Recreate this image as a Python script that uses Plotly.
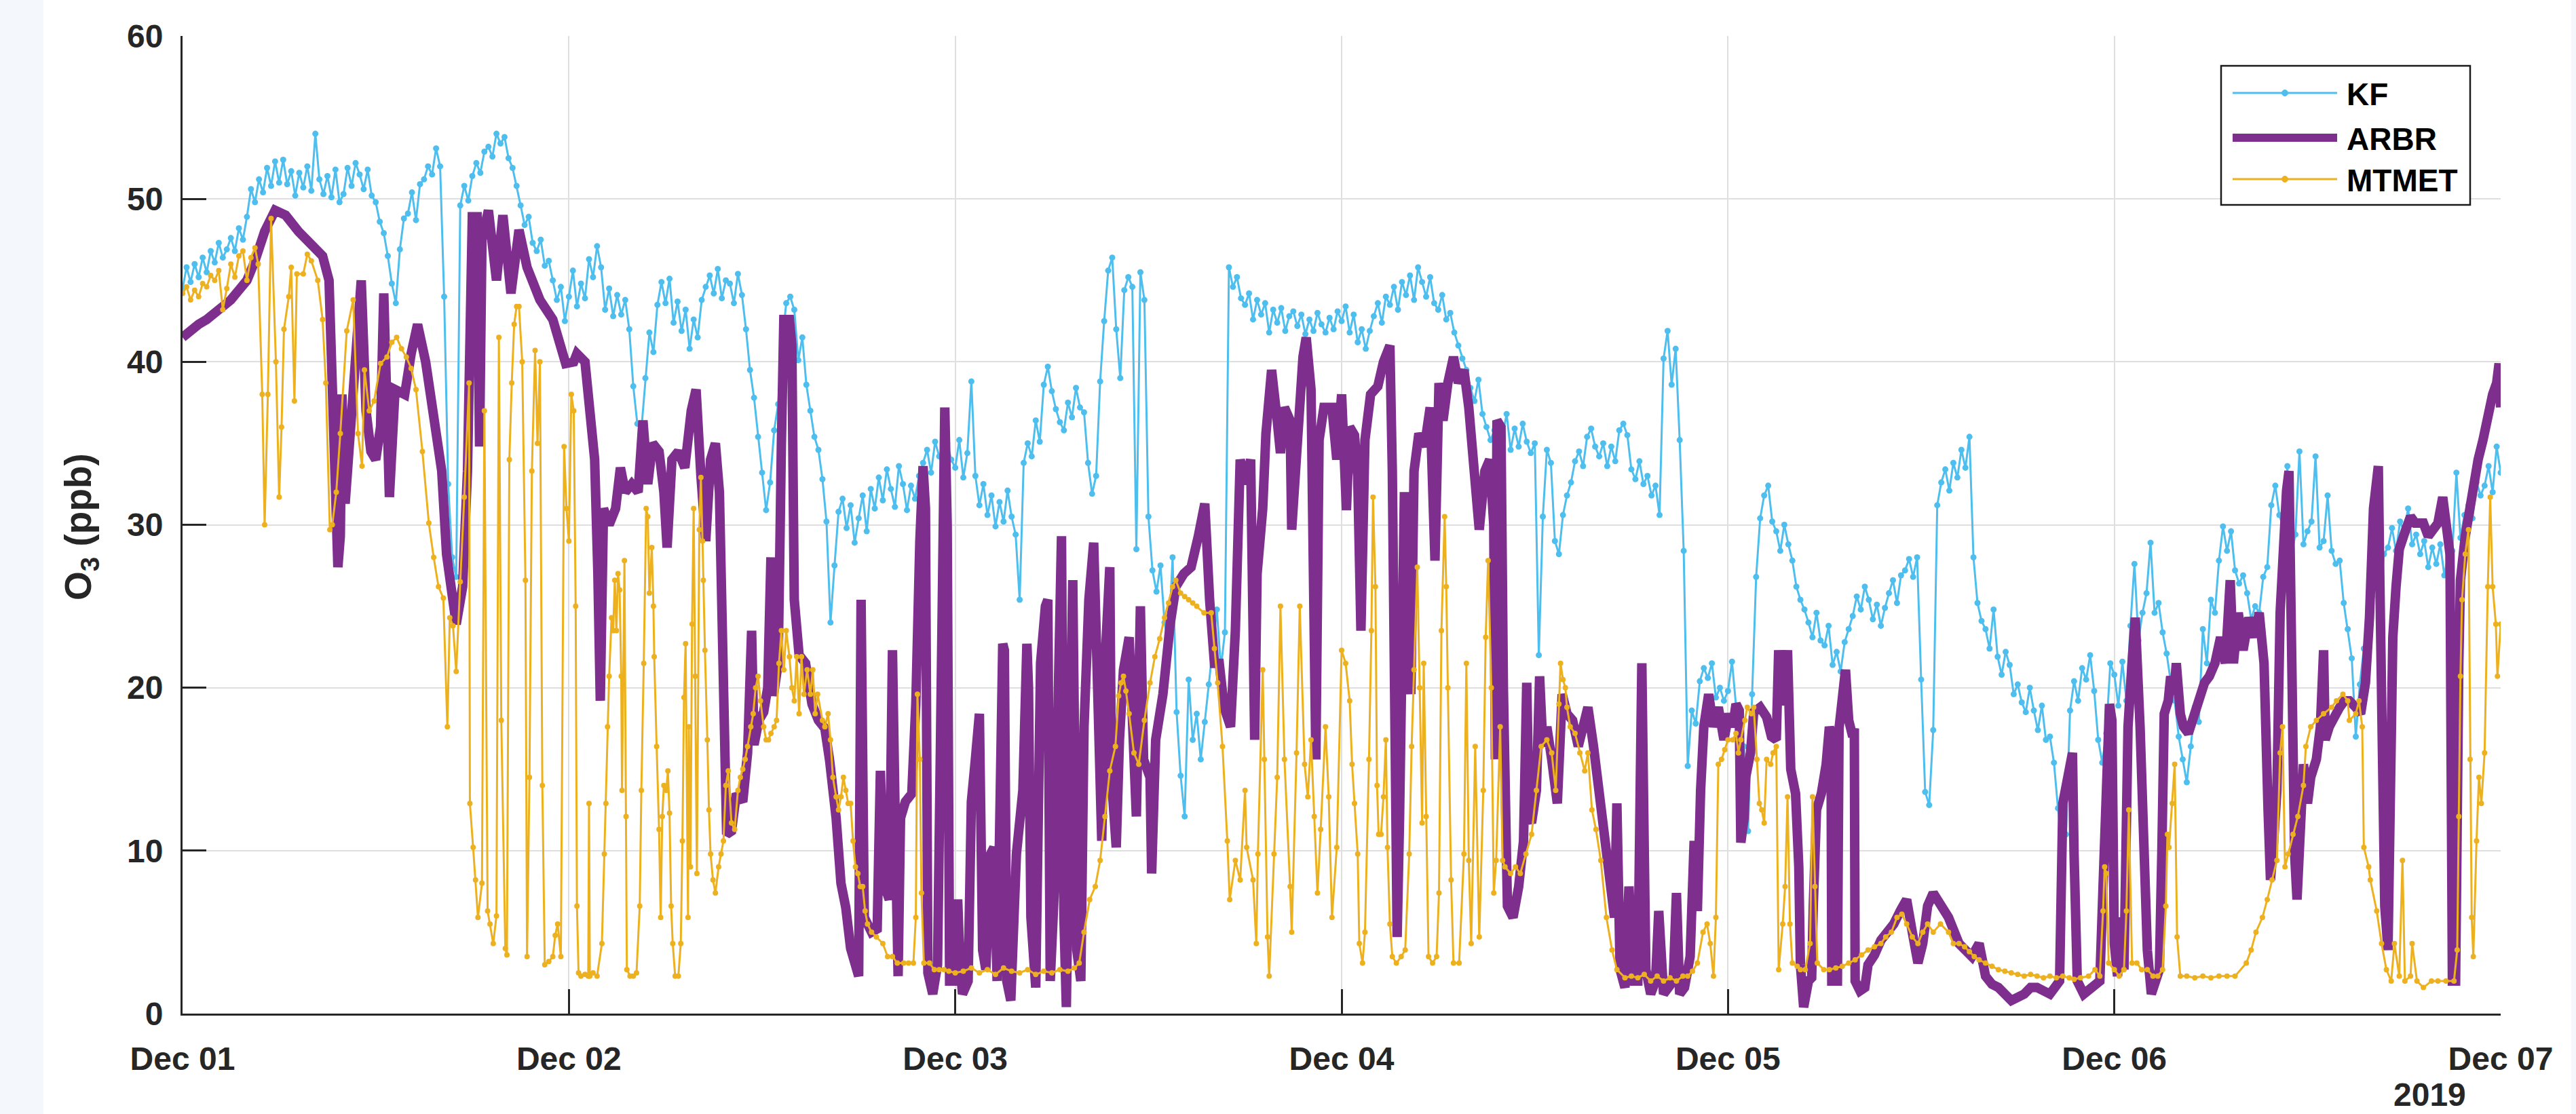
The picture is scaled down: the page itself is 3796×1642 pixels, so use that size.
import pandas as pd
import plotly.graph_objects as go

# Ozone time series, 1-7 December 2019 (ppb)
START = pd.Timestamp("2019-12-01")

# KF: one reading every 15 minutes from Dec 01 00:00 to Dec 07 00:00
kf_step_min = 15
kf_ppb = [
    # Dec 01
    44.5, 45.8, 44.9, 46.0, 45.2, 46.4, 45.5, 46.8, 46.1, 47.3, 46.4, 46.9, 47.6, 46.8, 48.2, 47.5, 48.9, 50.6, 49.8, 51.2, 50.4, 51.9, 50.8, 52.3,
    51.0, 52.4, 50.9, 51.7, 50.2, 51.6, 50.7, 52.0, 50.5, 54.0, 51.2, 50.3, 51.4, 50.1, 51.8, 49.8, 50.3, 51.9, 50.8, 52.2, 51.5, 50.6, 51.8, 50.2,
    49.8, 48.6, 47.9, 46.5, 44.8, 43.6, 46.9, 48.8, 49.1, 50.4, 48.7, 50.9, 51.2, 52.0, 51.5, 53.1, 52.0, 44.0, 32.5, 28.0, 26.8, 49.6, 50.8, 49.9,
    51.4, 52.2, 51.6, 52.9, 53.2, 52.6, 54.0, 53.4, 53.8, 52.5, 51.9, 50.8, 49.6, 48.4, 48.9, 47.3, 46.8, 47.5, 45.9, 46.2, 45.0, 43.8, 44.6, 42.5,
    # Dec 02
    44.0, 45.6, 43.4, 44.8, 43.9, 46.3, 45.2, 47.1, 45.8, 43.2, 44.5, 42.8, 44.1, 42.9, 43.8, 42.0, 38.5, 36.2, 35.8, 39.0, 41.8, 40.6, 43.5, 44.9,
    43.6, 45.1, 42.4, 43.7, 41.9, 43.2, 40.8, 42.6, 41.5, 43.8, 44.6, 45.3, 44.2, 45.7, 43.9, 45.0, 44.8, 43.6, 45.4, 44.1, 42.0, 39.5, 37.8, 35.4,
    33.2, 30.9, 32.6, 35.8, 37.4, 41.2, 43.6, 44.0, 43.2, 40.1, 41.5, 38.6, 37.0, 35.4, 34.6, 32.8, 30.2, 24.0, 27.5, 30.8, 31.6, 29.8, 31.2, 28.9,
    30.4, 31.8, 29.6, 32.2, 31.0, 32.9, 31.5, 33.4, 32.2, 31.1, 33.6, 32.5, 30.9, 32.4, 31.6, 33.0, 33.8, 34.6, 33.2, 35.1, 34.2, 33.5, 35.0, 34.0,
    # Dec 03
    33.5, 35.2, 32.9, 34.4, 38.8, 33.0, 31.2, 32.5, 30.6, 31.8, 29.9, 31.4, 30.2, 32.1, 30.5, 29.4, 25.4, 33.8, 35.0, 34.2, 36.4, 35.1, 38.6, 39.7,
    38.2, 37.1, 36.3, 35.8, 37.5, 36.6, 38.4, 37.2, 36.9, 33.8, 31.9, 33.0, 38.8, 42.5, 45.6, 46.4, 42.0, 39.0, 44.4, 45.2, 44.6, 28.5, 45.5, 43.8,
    30.5, 27.2, 25.9, 27.5, 24.0, 22.5, 28.0, 18.5, 14.6, 12.1, 20.5, 16.8, 18.4, 15.6, 17.9, 20.2, 22.6, 24.8, 21.2, 23.4, 45.8, 44.6, 45.2, 43.9,
    43.5, 44.2, 42.6, 43.8, 42.9, 43.6, 41.8, 43.2, 42.4, 43.3, 41.9, 42.8, 43.1, 42.2, 42.9, 41.7, 42.6, 41.9, 43.0, 42.3, 41.8, 42.7, 42.0, 43.1,
    # Dec 04
    42.5, 43.4, 41.8, 42.9, 41.2, 42.0, 40.8, 41.9, 42.8, 43.6, 42.4, 44.0, 43.5, 44.6, 43.2, 44.9, 44.1, 45.3, 43.8, 45.8, 44.9, 44.0, 45.2, 43.6,
    43.2, 44.1, 42.6, 43.0, 41.8, 41.0, 40.2, 39.5, 38.4, 37.6, 38.9, 36.8, 36.0, 35.2, 35.8, 34.9, 35.5, 36.8, 34.6, 35.9, 34.8, 36.2, 35.1, 34.4,
    35.0, 22.0, 30.5, 34.6, 33.8, 29.0, 28.2, 30.6, 31.8, 32.6, 33.9, 34.5, 33.6, 35.4, 35.9, 34.8, 34.2, 35.0, 33.6, 34.8, 33.9, 35.8, 36.2, 35.5,
    33.4, 32.8, 33.9, 32.5, 33.0, 31.8, 32.4, 30.6, 40.2, 41.9, 38.6, 40.8, 35.2, 28.4, 15.2, 18.6, 17.8, 20.4, 21.2, 20.6, 21.5, 19.4, 20.0, 19.2,
    # Dec 05
    19.8, 21.6, 18.9, 17.2, 16.4, 11.2, 19.6, 26.8, 30.4, 31.8, 32.4, 30.2, 29.6, 28.4, 30.0, 28.8, 27.8, 26.2, 25.4, 24.8, 24.0, 23.1, 24.6, 22.9,
    22.6, 23.8, 21.4, 22.2, 21.0, 22.8, 23.6, 24.4, 25.6, 24.8, 26.2, 25.4, 24.2, 25.1, 23.8, 24.9, 25.8, 26.6, 25.2, 26.9, 27.2, 27.9, 26.8, 28.0,
    20.5, 13.6, 12.8, 17.4, 31.2, 32.6, 33.4, 32.1, 33.8, 32.9, 34.6, 33.5, 35.4, 28.0, 25.2, 24.1, 23.6, 22.4, 24.8, 21.9, 20.8, 22.2, 21.4, 19.6,
    20.2, 19.1, 18.5, 20.0, 18.6, 17.4, 18.9, 16.8, 17.0, 15.4, 12.6, 10.4, 11.0, 18.6, 20.4, 19.2, 21.2, 20.5, 22.0, 19.8, 16.8, 15.4, 17.2, 21.5,
    # Dec 06
    20.8, 18.9, 21.6, 19.2, 23.8, 27.6, 22.9, 24.6, 25.8, 28.9, 24.6, 25.2, 23.4, 22.1, 20.4, 19.2, 17.0, 15.6, 14.2, 16.4, 18.8, 17.9, 23.6, 21.5,
    25.4, 24.6, 27.8, 29.9, 28.4, 29.6, 27.2, 26.4, 26.9, 25.8, 24.2, 25.0, 24.6, 26.8, 27.4, 31.2, 32.4, 30.6, 29.8, 33.6, 28.2, 29.4, 34.5, 28.8,
    29.6, 30.2, 34.2, 28.6, 29.0, 31.8, 28.4, 27.6, 27.8, 25.2, 23.6, 21.8, 17.0, 20.2, 22.4, 24.2, 25.6, 26.8, 25.4, 28.2, 28.6, 29.8, 28.4, 30.2,
    29.6, 31.0, 28.8, 29.4, 28.2, 29.0, 27.4, 28.6, 27.6, 28.8, 26.9, 28.2, 28.4, 33.2, 29.2, 30.6, 31.2, 30.4, 32.6, 31.8, 32.4, 33.6, 32.0, 34.8,
    33.2,
]

# ARBR: (hours since Dec 01 00:00, ppb)
arbr_obs = [
    (0, 41.5), (0.5, 42), (1, 42.3), (1.5, 42.6), (2, 43), (2.5, 43.4), (3, 43.8), (3.5, 44.4), (4, 45), (4.5, 46.2),
    (5.1, 48), (5.75, 49.3), (6.4, 49), (7.2, 48), (8, 47.3), (8.7, 46.5), (9.1, 45), (9.3, 37), (9.5, 28), (9.65, 27.4),
    (9.8, 29.3), (9.9, 38), (10.1, 31.3), (10.35, 35.2), (10.75, 41), (11.1, 45), (11.4, 37), (11.7, 34.5), (12, 34), (12.3, 36),
    (12.5, 44.2), (12.85, 31.7), (13.2, 38.3), (13.8, 38), (14.2, 40.5), (14.6, 42.3), (15.1, 40), (15.6, 36.4), (16.1, 33.3), (16.4, 28.2),
    (16.7, 25.4), (17, 23.9), (17.4, 26.2), (17.7, 33.3), (18, 48.9), (18.3, 48.9), (18.45, 34.8), (18.6, 47.5), (19, 49.3), (19.5, 45),
    (19.9, 49), (20.4, 44.2), (20.9, 48.1), (21.4, 45.8), (22.2, 43.8), (23, 42.6), (23.8, 39.9), (24.3, 40),
    (24.5, 40.5), (25, 40), (25.3, 37), (25.6, 34), (25.8, 27), (25.95, 19.2), (26.15, 31), (26.5, 30), (26.9, 31), (27.2, 33.5),
    (27.5, 32), (27.9, 32.5), (28.3, 32), (28.6, 36.4), (28.9, 32.5), (29.2, 35), (29.6, 34.5), (29.9, 32), (30.1, 28.6), (30.4, 34),
    (30.8, 34.5), (31.2, 33.5), (31.6, 37), (31.9, 38.3), (32.2, 33), (32.5, 29), (32.8, 34), (33.1, 35), (33.35, 32), (33.55, 20),
    (33.8, 11), (34.1, 11.2), (34.4, 13.5), (34.8, 13), (35.1, 16), (35.35, 23.5), (35.5, 16.5), (35.8, 18), (36.1, 18.5), (36.35, 20),
    (36.55, 28), (36.7, 19.5), (37, 21.5), (37.2, 35), (37.35, 42.6), (37.7, 42.6), (37.85, 41), (38, 25.4), (38.3, 22), (38.7, 21.5),
    (39.1, 19), (39.5, 18), (39.9, 17.5), (40.2, 15.5), (40.6, 12), (40.9, 8), (41.2, 6.5), (41.5, 4), (41.8, 3), (42, 2.3),
    (42.15, 25.4), (42.35, 5.9), (42.8, 5), (43.15, 5.2), (43.35, 14.9), (43.55, 8), (43.9, 7), (44.1, 22.3), (44.3, 10), (44.45, 2.3),
    (44.6, 12), (44.9, 13), (45.3, 13.5), (45.55, 19), (45.8, 29), (46.0, 33.6), (46.15, 31), (46.3, 2.5), (46.6, 1.2), (46.9, 3),
    (47.1, 18), (47.35, 37.2), (47.5, 30), (47.65, 2), (47.9, 2), (48.15, 7), (48.3, 3),
    (48.45, 1.2), (48.8, 2), (49, 13), (49.25, 15.6), (49.5, 18.4), (49.7, 3.9), (49.9, 2.7), (50.2, 9.8), (50.4, 10.2), (50.6, 2),
    (50.8, 20.7), (50.95, 22.7), (51.05, 22.3), (51.2, 2), (51.45, 0.8), (51.8, 9.8), (52.2, 13.7), (52.45, 22.7), (52.55, 20), (52.7, 5.9),
    (53, 1.6), (53.3, 21.5), (53.6, 25), (53.75, 25.4), (53.9, 2), (54.2, 8.6), (54.4, 19.6), (54.6, 29.3), (54.75, 5.9), (54.9, 0.4),
    (55.15, 17.6), (55.3, 26.6), (55.55, 3.9), (55.8, 2), (56, 17.6), (56.3, 25.4), (56.6, 28.9), (56.85, 21.5), (57.1, 10.6), (57.3, 21.5),
    (57.6, 27.4), (57.7, 14.5), (58, 10.2), (58.2, 16.8), (58.45, 21.1), (58.8, 23.1), (59, 16.8), (59.25, 12.1), (59.5, 25), (59.7, 15.6),
    (60.1, 14.5), (60.2, 8.6), (60.45, 16.8), (60.9, 19.6), (61.35, 23.9), (61.7, 26.2), (62.2, 27), (62.65, 27.4), (63.1, 29.3), (63.5, 31.3),
    (63.8, 25.4), (64.1, 21.5), (64.4, 21.5), (64.7, 18.8), (65.1, 17.6), (65.4, 23.5), (65.7, 34), (66, 32.5), (66.35, 34), (66.6, 16.8),
    (66.75, 27), (67.1, 31), (67.3, 35.6), (67.65, 39.5), (68, 36.4), (68.2, 34.4), (68.45, 37.2), (68.8, 36.4), (68.9, 29.7), (69.3, 36.4),
    (69.6, 40.3), (69.8, 41.5), (70.1, 38.3), (70.4, 15.6), (70.6, 35.2), (70.9, 37.2), (71.4, 37.2), (71.7, 34), (72, 38),
    (72.3, 30.9), (72.5, 36), (72.8, 35.5), (73, 33), (73.2, 23.5), (73.45, 35.2), (73.8, 38), (74.25, 38.5), (74.6, 40), (75, 41),
    (75.15, 33.3), (75.3, 15), (75.45, 4.7), (75.6, 12), (75.75, 19.6), (75.9, 32), (76, 30.5), (76.3, 19.6), (76.5, 33.3), (76.8, 35.6),
    (77.15, 34.8), (77.5, 37.2), (77.8, 27.8), (78.05, 38.7), (78.3, 36.4), (78.6, 38.7), (78.95, 40.3), (79.25, 38.7), (79.6, 39.5), (79.9, 37.2),
    (80.2, 33.3), (80.55, 29.7), (80.9, 33.3), (81.2, 34), (81.45, 30), (81.55, 15.6), (81.65, 36.4), (81.9, 36), (82.05, 20), (82.15, 13.7),
    (82.3, 6.6), (82.65, 5.9), (83, 7.8), (83.3, 10.6), (83.5, 20.3), (83.65, 12), (83.8, 11.7), (84.1, 13.7), (84.3, 20.7), (84.5, 16.4),
    (84.75, 17.6), (85.05, 15.6), (85.4, 12.9), (85.7, 19.6), (86, 18.4), (86.35, 18), (86.7, 16.4), (87, 17.6), (87.3, 18.8), (87.65, 16.4),
    (87.95, 13.7), (88.3, 11), (88.6, 7.8), (88.95, 5.9), (89.1, 12.9), (89.3, 2.7), (89.6, 1.6), (89.85, 7.8), (90.1, 2), (90.4, 2),
    (90.55, 14), (90.65, 21.5), (90.8, 10), (90.9, 2.7), (91.2, 1.2), (91.5, 2), (91.7, 6.3), (92, 1.2), (92.3, 1.6), (92.6, 2),
    (92.8, 7.4), (93, 1.2), (93.3, 1.6), (93.65, 3.5), (93.9, 10.6), (94.1, 6.3), (94.3, 13.7), (94.5, 17.6), (94.8, 19.6), (95.1, 17.6),
    (95.4, 18.8), (95.75, 16.8), (96.05, 18.4), (96.3, 17.6),
    (96.5, 19), (96.7, 18.6), (96.8, 10.5), (97.0, 12), (97.1, 14.5), (97.4, 16), (97.6, 18.5), (98, 18.8), (98.4, 18.2), (98.7, 17),
    (99, 16.8), (99.15, 22.3), (99.3, 19), (99.55, 19.5), (99.7, 22.3), (99.9, 15), (100.2, 13.5), (100.4, 9), (100.5, 3), (100.7, 0.4),
    (101, 2), (101.2, 2.2), (101.3, 6.6), (101.5, 12.5), (101.8, 13.5), (102.1, 15.3), (102.3, 17.6), (102.4, 17.2), (102.45, 2), (102.8, 2),
    (102.9, 17.5), (103.1, 19), (103.3, 21.1), (103.5, 18), (103.75, 17), (103.85, 17.5), (103.9, 2), (104.2, 1.4), (104.5, 1.6), (104.7, 3),
    (105.1, 3.6), (105.5, 4.5), (105.9, 5), (106.3, 5.5), (106.7, 6.3), (107.1, 7), (107.45, 5), (107.8, 3.1), (108.1, 4.3), (108.4, 6.6),
    (108.75, 7.4), (109.2, 6.6), (109.7, 5.9), (110.35, 4.3), (110.8, 3.8), (111.15, 3.5), (111.6, 4.3), (112, 2.3), (112.4, 1.8), (112.8, 1.6),
    (113.2, 1.2), (113.6, 0.8), (114, 1), (114.4, 1.2), (114.8, 1.6), (115.2, 1.6), (115.6, 1.4), (116, 1.2), (116.3, 1.6), (116.6, 2),
    (116.8, 12.9), (117.1, 14.5), (117.3, 15.5), (117.4, 16), (117.5, 9.8), (117.7, 2), (118.1, 1.2), (118.6, 1.6), (119.1, 2), (119.3, 7.8),
    (119.5, 14), (119.7, 19), (119.85, 18), (120, 4.3),
    (120.2, 2.3), (120.4, 5.9), (120.6, 2.7), (120.85, 17.6), (121.1, 21.5), (121.3, 24.3), (121.6, 17.6), (121.8, 9.8), (122.05, 3.9), (122.3, 1.2),
    (122.5, 2), (122.8, 2.7), (122.95, 9.8), (123.1, 18.4), (123.35, 19.2), (123.5, 20.7), (123.7, 19.6), (123.85, 21.5), (124.1, 18.4), (124.3, 17.6),
    (124.6, 17.2), (125, 18.4), (125.3, 19.6), (125.6, 20.3), (125.9, 20.7), (126.25, 21.5), (126.6, 23.1), (126.9, 21.5), (127.2, 26.6), (127.4, 21.5),
    (127.7, 24.6), (128, 22.3), (128.35, 24.3), (128.7, 23.1), (129, 24.6), (129.3, 21.5), (129.55, 12.5), (129.7, 8.2), (129.9, 10.6), (130.1, 13.7),
    (130.3, 24.6), (130.5, 30.5), (130.7, 32.1), (130.85, 33.3), (131, 21.5), (131.2, 9.8), (131.35, 7), (131.5, 11.7), (131.75, 15.3), (132, 12.9),
    (132.2, 14.5), (132.55, 15.6), (132.8, 17.6), (133, 22.3), (133.1, 16.8), (133.35, 17.6), (133.7, 18.4), (134, 18.8), (134.3, 19.2), (134.6, 19.2),
    (135, 18.8), (135.3, 18.4), (135.6, 20.3), (135.85, 24.3), (136.1, 31), (136.4, 33.6), (136.5, 26.2), (136.7, 13.7), (136.8, 6.6), (137, 3.9),
    (137.1, 13.7), (137.3, 23.1), (137.5, 26.2), (137.7, 28.5), (138.1, 29.7), (138.4, 30.5), (138.7, 30.1), (139.2, 30.1), (139.5, 29.3), (139.8, 29.7),
    (140.1, 30.1), (140.4, 31.7), (140.6, 29.7), (140.85, 28.2), (141, 2), (141.2, 2), (141.4, 21.5), (141.5, 26.6), (141.8, 29.3), (142.1, 31.3),
    (142.3, 32.5), (142.6, 34), (142.9, 35.2), (143.2, 36.8), (143.5, 38), (143.75, 38.7), (143.9, 39.9), (144, 37.2),
]

# MTMET: (hours since Dec 01 00:00, ppb)
mtmet_obs = [
    (0, 44.2), (0.25, 44.6), (0.5, 43.8), (0.75, 44.4), (1, 44), (1.25, 44.8), (1.5, 44.6), (1.75, 45.3), (2, 45), (2.25, 45.6),
    (2.5, 43.2), (2.75, 44.5), (3, 46), (3.25, 45.2), (3.5, 46.5), (3.75, 46.8), (4, 45), (4.25, 46.4), (4.5, 47), (4.7, 46),
    (4.95, 38), (5.1, 30), (5.3, 38), (5.5, 48.8), (5.8, 40), (6, 31.7), (6.15, 36), (6.3, 42), (6.6, 44), (6.75, 45.8),
    (6.95, 37.6), (7.1, 45.4), (7.5, 45.4), (7.75, 46.6), (8, 46.2), (8.4, 45), (8.7, 42.6), (8.9, 38.7), (9.15, 29.7), (9.3, 30),
    (9.55, 32), (9.8, 35.6), (10.2, 41.9), (10.6, 43.8), (10.9, 35.6), (11.15, 33.6), (11.3, 39.5), (11.6, 37), (11.9, 37.6), (12.3, 39.9),
    (12.7, 40.3), (13, 41.2), (13.3, 41.5), (13.6, 40.8), (13.9, 40.3), (14.2, 39.6), (14.5, 38.3), (14.9, 34.5), (15.3, 30.1), (15.6, 28),
    (15.9, 26.2), (16.2, 25.5), (16.45, 17.6), (16.6, 24.3), (16.8, 23.8), (17, 21), (17.25, 26.5), (17.5, 31.7), (17.8, 38.7), (17.85, 12.9),
    (18.05, 10.2), (18.2, 8.2), (18.35, 5.9), (18.6, 8), (18.75, 37), (18.95, 6.3), (19.1, 5.5), (19.3, 4.3), (19.5, 6), (19.65, 41.5),
    (19.8, 18), (20.05, 4), (20.15, 3.6), (20.3, 34), (20.45, 38.7), (20.6, 42.3), (20.75, 43.4), (20.9, 43.4), (21.1, 40), (21.3, 26.6),
    (21.4, 3.5), (21.55, 14.5), (21.7, 33.3), (21.9, 40.7), (22.05, 35), (22.2, 40), (22.35, 14), (22.5, 3), (22.75, 3.2), (23, 3.5),
    (23.15, 4.8), (23.3, 5.5), (23.5, 3.5), (23.7, 34.8), (23.85, 31), (24.0, 29), (24.15, 38), (24.3, 37), (24.42, 25), (24.5, 6.6),
    (24.6, 2.5), (24.75, 2.3), (25.0, 2.4), (25.2, 2.3), (25.25, 12.9), (25.3, 2.3), (25.5, 2.5), (25.75, 2.3), (26.05, 4.3), (26.2, 9.8),
    (26.3, 12.9), (26.4, 17.6), (26.5, 20.7), (26.65, 24.3), (26.75, 23.5), (26.85, 26.6), (26.95, 23.5), (27.05, 27), (27.15, 26), (27.25, 20.7),
    (27.3, 13.7), (27.45, 27.8), (27.55, 12.1), (27.6, 2.7), (27.8, 2.3), (28.0, 2.3), (28.2, 2.5), (28.4, 6.6), (28.5, 13.7), (28.65, 21.5),
    (28.8, 31), (28.9, 30.5), (29.0, 25.8), (29.15, 28.6), (29.25, 25), (29.3, 21.9), (29.45, 16.4), (29.6, 11.3), (29.7, 5.9), (29.8, 12.1),
    (29.9, 14), (30.05, 13.7), (30.15, 14.9), (30.25, 12.3), (30.35, 6.6), (30.45, 4.3), (30.6, 2.3), (30.8, 2.3), (30.95, 4.3), (31.05, 10.6),
    (31.15, 19.4), (31.25, 22.7), (31.4, 5.9), (31.45, 17.6), (31.55, 9), (31.65, 23.9), (31.75, 31), (31.85, 20.7), (31.95, 8.6), (32.1, 29.7),
    (32.2, 32.9), (32.3, 29), (32.35, 26.6), (32.45, 22.3), (32.6, 16.8), (32.7, 12.5), (32.8, 9.8), (32.95, 8.2), (33.1, 7.4), (33.3, 9),
    (33.45, 9.8), (33.6, 10.6), (33.75, 14), (33.9, 14.9), (34.1, 11.7), (34.3, 11.3), (34.5, 13.7), (34.65, 14.5), (34.8, 15), (34.95, 15.6),
    (35.1, 16.4), (35.3, 17.6), (35.45, 18.4), (35.6, 20), (35.75, 20.7), (35.9, 19.2), (36.1, 17.6), (36.25, 16.8), (36.4, 16.8), (36.55, 17.2),
    (36.75, 17.6), (36.9, 18), (37.05, 21.5), (37.2, 23.5), (37.35, 21.1), (37.5, 23.5), (37.7, 21.9), (37.85, 20), (38.0, 19.2), (38.15, 21.9),
    (38.3, 18.4), (38.45, 21.9), (38.6, 19.6), (38.8, 21.1), (39.0, 19.6), (39.15, 21.1), (39.3, 18.4), (39.45, 19.6), (39.75, 18), (39.9, 17.6),
    (40.1, 18.4), (40.25, 16.8), (40.4, 14.5), (40.6, 13.3), (40.75, 12.5), (40.9, 13.3), (41.05, 14.5), (41.2, 13.7), (41.35, 12.9), (41.5, 12.9),
    (41.65, 10.6), (41.8, 9), (41.95, 8.6), (42.1, 7.8), (42.25, 7.8), (42.4, 6.3), (42.55, 5.5), (42.8, 5), (43.1, 4.7), (43.5, 4.3),
    (43.8, 3.5), (44.1, 3.5), (44.4, 3.1), (44.8, 3.1), (45.1, 3.1), (45.4, 3.1), (45.55, 5.9), (45.65, 19.6), (45.8, 15.6), (45.9, 7.4),
    (46.05, 3.1), (46.4, 3.1), (46.7, 2.7), (47.0, 2.7), (47.3, 2.7), (47.6, 2.6), (48.0, 2.5),
    (48.5, 2.6), (49, 2.8), (49.5, 2.5), (50, 2.7), (50.5, 2.4), (51, 2.8), (51.5, 2.6), (52, 2.5), (52.5, 2.7), (53, 2.4),
    (53.5, 2.6), (54, 2.5), (54.5, 2.7), (55, 2.6), (55.4, 2.8), (55.7, 3.1), (56, 5), (56.35, 7), (56.7, 7.8), (57, 9.4),
    (57.3, 12.1), (57.6, 14.9), (57.95, 16.4), (58.15, 19.5), (58.3, 20.3), (58.45, 20.7), (58.6, 19.8), (58.8, 18.4), (59.1, 16), (59.4, 15.3),
    (59.75, 18), (60.1, 20.3), (60.4, 21.9), (60.7, 23), (61, 24.3), (61.25, 25.2), (61.5, 26.2), (61.7, 26.6), (62, 25.8), (62.25, 25.6),
    (62.5, 25.4), (62.75, 25.2), (63, 25), (63.45, 24.6), (63.9, 24.6), (64.1, 22.4), (64.3, 20.3), (64.6, 16.4), (64.9, 10.6), (65.05, 7),
    (65.4, 9.4), (65.7, 8.2), (66, 13.7), (66.1, 10.2), (66.5, 8.2), (66.7, 4.3), (66.8, 9.8), (67.1, 21.1), (67.2, 15.6), (67.4, 4.7),
    (67.5, 2.3), (67.8, 9.8), (68, 14.5), (68.2, 25), (68.45, 15.6), (68.8, 7.8), (68.9, 5), (69.2, 16), (69.4, 25), (69.7, 15.3),
    (69.9, 13.3), (70.1, 16.8), (70.3, 12.1), (70.5, 7.4), (70.7, 11.3), (71, 17.6), (71.2, 13.3), (71.4, 5.9), (71.7, 10.2), (72, 22.3),
    (72.25, 21.5), (72.5, 19.2), (72.65, 15.3), (72.8, 12.9), (73, 9.8), (73.1, 4.3), (73.3, 3.1), (73.45, 5), (73.7, 15.6), (73.85, 23.5),
    (73.95, 31.7), (74.1, 26.2), (74.2, 14), (74.3, 11), (74.45, 11), (74.6, 13.3), (74.75, 16.8), (74.85, 10.2), (75, 5.5), (75.15, 3.5),
    (75.4, 3.1), (75.7, 3.5), (75.95, 3.9), (76.2, 9.8), (76.35, 16.4), (76.5, 21.1), (76.7, 27.4), (76.85, 20), (77, 11.7), (77.1, 21.5),
    (77.25, 12.1), (77.4, 3.5), (77.65, 3.1), (77.9, 3.5), (78.05, 7.4), (78.2, 23.5), (78.4, 30.5), (78.5, 26.2), (78.6, 20), (78.8, 8.2),
    (78.95, 3.1), (79.3, 3.1), (79.6, 9.8), (79.75, 21.5), (79.9, 9.4), (80.05, 4.3), (80.3, 16.4), (80.55, 4.7), (80.8, 13.7), (80.95, 23.1),
    (81.1, 27.8), (81.3, 20), (81.45, 7.4), (81.6, 9.4), (81.85, 17.6), (82, 9.4), (82.15, 9), (82.5, 8.6), (82.8, 9), (83.1, 8.6),
    (83.45, 9.8), (83.8, 11), (84.1, 13.7), (84.4, 16.4), (84.75, 16.8), (85.05, 16), (85.3, 13.7), (85.5, 19), (85.6, 21.5), (85.75, 20.5),
    (85.9, 20), (86, 18.8), (86.2, 17.6), (86.5, 17.2), (86.8, 16), (87.1, 14.9), (87.3, 16), (87.55, 12.5), (87.8, 11.3), (88.1, 9.4),
    (88.45, 5.9), (88.8, 3.9), (89.1, 2.7), (89.6, 2.2), (90, 2.3), (90.4, 2.2), (90.8, 2.4), (91.2, 2), (91.6, 2.3), (92, 2),
    (92.4, 2.2), (92.8, 2), (93.2, 2.3), (93.5, 2.3), (93.8, 2.6), (94.1, 3.1), (94.45, 5), (94.7, 5.5), (94.9, 4.3), (95.1, 2.3),
    (95.25, 5.9), (95.4, 15.3), (95.6, 15.6), (95.8, 16.2), (96, 16.8),
    (96.3, 16.8), (96.5, 17.2), (96.65, 16), (96.8, 16.8), (97.05, 18), (97.2, 18.8), (97.45, 18.4), (97.6, 18.8), (97.8, 15.6), (97.95, 12.9),
    (98.1, 12.5), (98.25, 11.7), (98.4, 15.6), (98.65, 15.3), (98.8, 16), (99, 16.4), (99.15, 2.7), (99.4, 5.5), (99.55, 7.8), (99.7, 13.3),
    (99.85, 5.5), (100, 3.1), (100.3, 2.9), (100.5, 2.7), (100.8, 2.7), (101.1, 4.3), (101.25, 13.3), (101.4, 7.8), (101.55, 3.1), (101.95, 2.7),
    (102.3, 2.7), (102.7, 2.8), (103.1, 2.9), (103.5, 3.1), (103.9, 3.3), (104.3, 3.6), (104.7, 3.9), (105.1, 4.1), (105.5, 4.3), (105.8, 4.7),
    (106.15, 5), (106.5, 5.9), (106.8, 6.1), (107.1, 5.5), (107.45, 4.7), (107.8, 4.3), (108.1, 5), (108.4, 5.5), (108.75, 5), (109.2, 5.5),
    (109.7, 5), (110, 4.3), (110.35, 4.3), (110.7, 4.1), (111, 3.8), (111.3, 3.5), (111.6, 3.3), (112, 3.1), (112.4, 2.9), (112.8, 2.7),
    (113.2, 2.6), (113.6, 2.5), (114, 2.4), (114.4, 2.3), (114.8, 2.4), (115.2, 2.3), (115.6, 2.2), (116, 2.3), (116.4, 2.2), (116.8, 2.3),
    (117.2, 2.2), (117.5, 2.1), (117.9, 2.2), (118.4, 2.3), (118.8, 2.7), (119.1, 2.3), (119.3, 6.3), (119.4, 9), (119.5, 8.6), (119.65, 3.1),
    (120, 2.7), (120.3, 2.3), (120.6, 2.7), (120.75, 6.3), (120.9, 12.5), (121.1, 3.1), (121.4, 3.1), (121.7, 2.7), (122.05, 2.7), (122.4, 2.3),
    (122.7, 2.3), (123, 2.7), (123.2, 6.6), (123.3, 11), (123.4, 10.2), (123.6, 12.9), (123.75, 15.3), (123.9, 4.7), (124.1, 2.3), (124.5, 2.3),
    (125, 2.2), (125.5, 2.3), (126, 2.2), (126.5, 2.3), (127, 2.3), (127.5, 2.3), (128.2, 3.1), (128.5, 3.9), (128.8, 5), (129.2, 5.9),
    (129.5, 7), (129.8, 8.2), (130.1, 9.4), (130.3, 16), (130.45, 17.6), (130.6, 9), (130.8, 9.8), (131.1, 11), (131.4, 12.1), (131.75, 14),
    (131.9, 16.4), (132.2, 17.6), (132.55, 18), (133, 18.4), (133.5, 18.8), (133.8, 19.2), (134.2, 19.6), (134.5, 19.2), (134.6, 18), (135, 18.4),
    (135.2, 19.2), (135.4, 17.6), (135.5, 10.2), (135.8, 9), (135.9, 8.2), (136.3, 6.3), (136.6, 4.3), (136.9, 2.7), (137.2, 2), (137.4, 4.3),
    (137.7, 2.3), (137.9, 9.4), (138.05, 2), (138.4, 2.3), (138.5, 4.3), (138.8, 2), (139.2, 1.6), (139.7, 2), (140.1, 2), (140.6, 2),
    (141.1, 2), (141.3, 3.9), (141.4, 12.1), (141.5, 20.7), (141.6, 25.4), (141.8, 28.2), (142, 29.7), (142.1, 15.6), (142.2, 5.9), (142.3, 3.5),
    (142.5, 10.6), (142.65, 14.5), (142.8, 12.9), (143, 16), (143.2, 26.2), (143.35, 31.7), (143.5, 26.2), (143.7, 23.9), (143.8, 20.7), (144, 23.9),
]

Y_TICKS = [0, 10, 20, 30, 40, 50, 60]
X_START, X_END = "2019-12-01", "2019-12-07"
YEAR_LABEL = "2019"
Y_TITLE = "O<sub>3</sub> (ppb)"

KF_COLOR = "#4DBEEE"
ARBR_COLOR = "#7E2F8E"
MTMET_COLOR = "#EDB120"
AXIS_COLOR = "#262626"
GRID_COLOR = "#DFDFDF"
FONT = "Liberation Sans, Arial, Helvetica, sans-serif"


def hours_to_time(hours):
    return [START + pd.Timedelta(hours=h) for h in hours]


kf_time = [START + pd.Timedelta(minutes=kf_step_min * i) for i in range(len(kf_ppb))]
arbr_time = hours_to_time([h for h, _ in arbr_obs])
arbr_ppb = [v for _, v in arbr_obs]
mtmet_time = hours_to_time([h for h, _ in mtmet_obs])
mtmet_ppb = [v for _, v in mtmet_obs]

fig = go.Figure()
fig.add_trace(go.Scatter(
    x=kf_time, y=kf_ppb, name="KF", mode="lines+markers",
    line=dict(color=KF_COLOR, width=3),
    marker=dict(color=KF_COLOR, size=9),
))
fig.add_trace(go.Scatter(
    x=arbr_time, y=arbr_ppb, name="ARBR", mode="lines",
    line=dict(color=ARBR_COLOR, width=14),
))
fig.add_trace(go.Scatter(
    x=mtmet_time, y=mtmet_ppb, name="MTMET", mode="lines+markers",
    line=dict(color=MTMET_COLOR, width=3),
    marker=dict(color=MTMET_COLOR, size=8),
))

W, H = 3796, 1642
ML, MR, MT, MB = 269, 111, 53, 148
PW, PH = W - ML - MR, H - MT - MB


def px_x(x):
    return (x - ML) / PW


def px_y(y):
    return (H - MB - y) / PH


shapes = [
    # light page strips at the edges of the figure panel
    dict(type="rect", xref="paper", yref="paper", x0=px_x(0), x1=px_x(64),
         y0=px_y(H), y1=px_y(0), fillcolor="#F4F7FB", line=dict(width=0), layer="below"),
    dict(type="rect", xref="paper", yref="paper", x0=px_x(3789), x1=px_x(W),
         y0=px_y(H), y1=px_y(0), fillcolor="#F4F7FB", line=dict(width=0), layer="below"),
]

# legend box with long line samples
leg_x0, leg_x1, leg_y0, leg_y1 = 3273, 3640, 97, 302
shapes.append(dict(type="rect", xref="paper", yref="paper",
                   x0=px_x(leg_x0), x1=px_x(leg_x1), y0=px_y(leg_y1), y1=px_y(leg_y0),
                   fillcolor="white", line=dict(color="#1a1a1a", width=2.5), layer="above"))
legend_rows = [("KF", KF_COLOR, 3, True, 137), ("ARBR", ARBR_COLOR, 12, False, 203),
               ("MTMET", MTMET_COLOR, 3, True, 264)]
annotations = []
for label, color, width, dot, ypx in legend_rows:
    shapes.append(dict(type="line", xref="paper", yref="paper",
                       x0=px_x(3290), x1=px_x(3444), y0=px_y(ypx), y1=px_y(ypx),
                       line=dict(color=color, width=width), layer="above"))
    if dot:
        r = 4.5
        shapes.append(dict(type="circle", xref="paper", yref="paper",
                           x0=px_x(3367 - r), x1=px_x(3367 + r), y0=px_y(ypx + r), y1=px_y(ypx - r),
                           fillcolor=color, line=dict(color=color, width=1), layer="above"))
    annotations.append(dict(text=label, xref="paper", yref="paper", x=px_x(3456), y=px_y(ypx + 2),
                            xanchor="left", yanchor="middle", showarrow=False,
                            font=dict(family=FONT, size=46, color="black", weight="bold")))

annotations.append(dict(text=Y_TITLE, xref="paper", yref="paper", x=px_x(119), y=px_y(777),
                        xanchor="center", yanchor="middle", textangle=-90, showarrow=False,
                        font=dict(family=FONT, size=55, color=AXIS_COLOR, weight="bold")))
annotations.append(dict(text=YEAR_LABEL, xref="paper", yref="paper", x=px_x(3580), y=px_y(1641),
                        xanchor="center", yanchor="bottom", showarrow=False, borderpad=0,
                        font=dict(family=FONT, size=48, color=AXIS_COLOR, weight="bold")))

tick_font = dict(family=FONT, size=48, color=AXIS_COLOR, weight="bold")

fig.update_layout(
    template="none",
    width=W, height=H,
    margin=dict(l=ML, r=MR, t=MT, b=MB, pad=0),
    paper_bgcolor="white", plot_bgcolor="white",
    showlegend=False,
    font=dict(family=FONT, size=48, color=AXIS_COLOR),
    shapes=shapes,
    annotations=annotations,
    xaxis=dict(
        type="date", range=[X_START, X_END], dtick=86400000, tick0=X_START,
        tickformat="%b %d", tickfont=tick_font, ticklabelstandoff=22,
        showgrid=True, gridcolor=GRID_COLOR, gridwidth=2,
        showline=True, linecolor=AXIS_COLOR, linewidth=3,
        ticks="inside", ticklen=36, tickwidth=3, tickcolor=AXIS_COLOR,
        zeroline=False, automargin=False, mirror=False,
    ),
    yaxis=dict(
        range=[0, 60], tickvals=Y_TICKS, tickfont=tick_font, ticklabelstandoff=16,
        showgrid=True, gridcolor=GRID_COLOR, gridwidth=2,
        showline=True, linecolor=AXIS_COLOR, linewidth=3,
        ticks="inside", ticklen=35, tickwidth=3, tickcolor=AXIS_COLOR,
        zeroline=False, automargin=False, mirror=False,
    ),
)

fig.write_html("out.html")
